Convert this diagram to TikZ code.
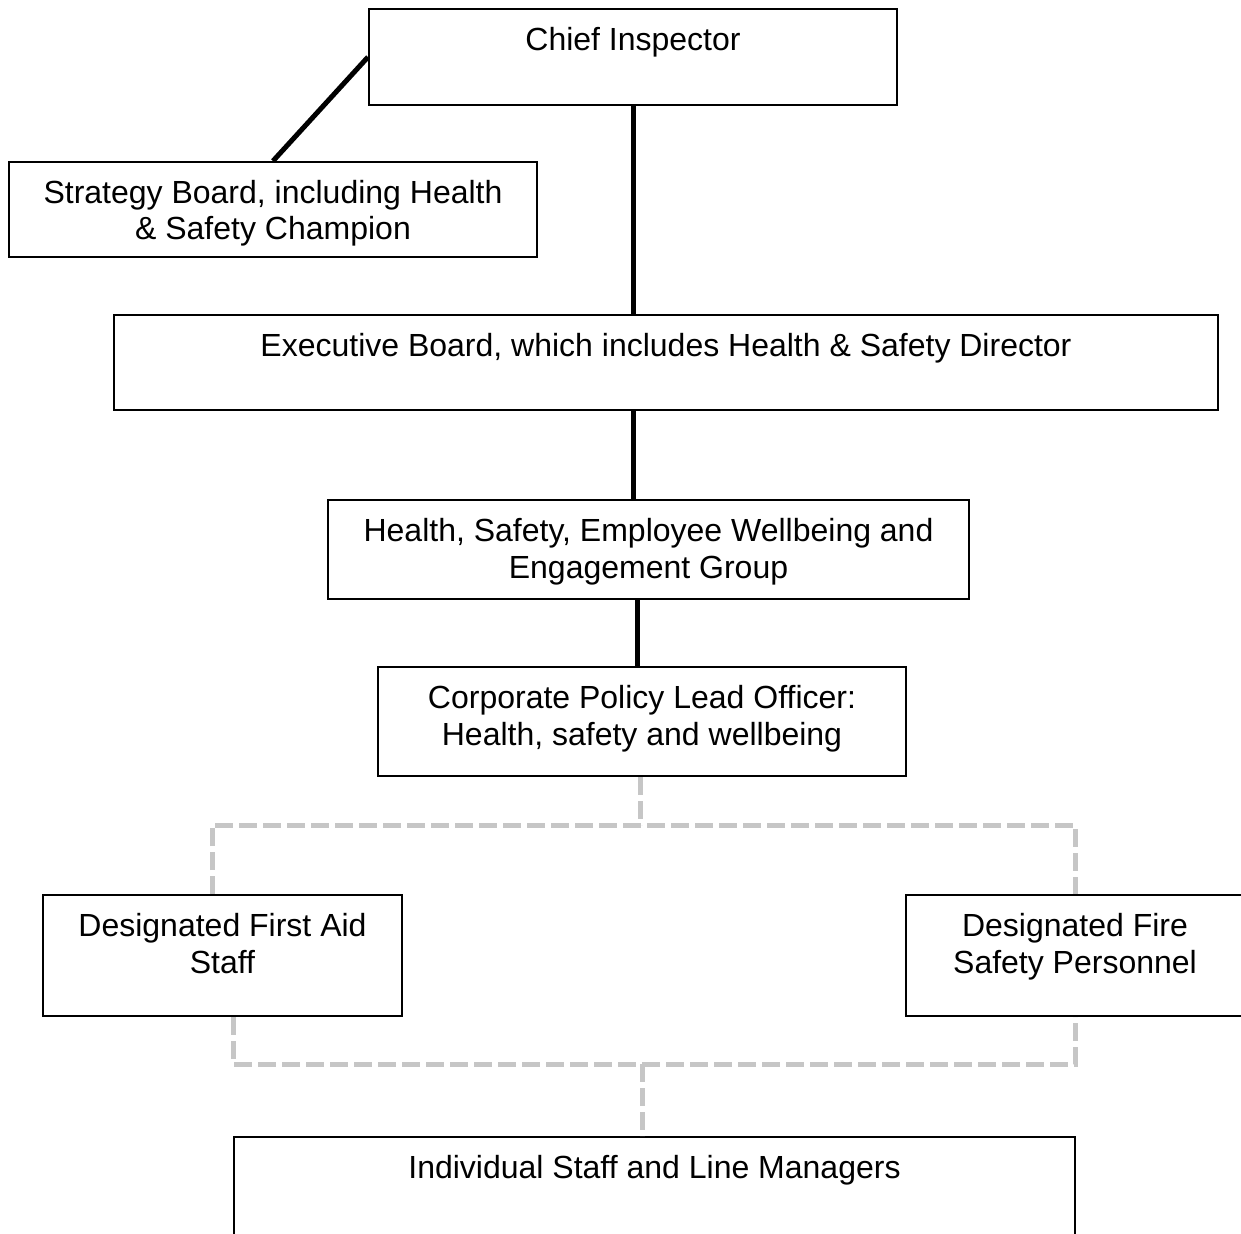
\documentclass[tikz,border=0pt]{standalone}
\usepackage{fontspec}
\setmainfont{Liberation Sans}
\usepackage{tikz}
\usetikzlibrary{calc}

\definecolor{dashgrey}{RGB}{198,198,198}
% text sits at the top of each box
\newcommand{\boxtext}[3]{\parbox[c][#2][t]{#1}{\centering\rule{0pt}{41.5pt}#3}}

\begin{document}
\begin{tikzpicture}[x=1pt,y=-1pt,line width=5pt,
                    font=\fontsize{32}{36.5}\selectfont,
                    dashlink/.style={draw=dashgrey,dash pattern=on 18pt off 6pt}]
  \tikzstyle{every node}=[draw,line width=2pt,inner sep=0pt]
  \useasboundingbox (0,0) rectangle (1241,1233);
  \clip (0,0) rectangle (1241,1233);

  \node (chief) at (633,57)      {\boxtext{528pt}{96pt}{Chief Inspector}};
  \node (strat) at (273,209.5)   {\boxtext{528pt}{95pt}{Strategy Board, including Health\\ \& Safety Champion}};
  \node (exec)  at (666,362.5)   {\boxtext{1104pt}{95pt}{Executive Board, which includes Health \& Safety Director}};
  \node (hsew)  at (648.5,549.5) {\boxtext{641pt}{99pt}{Health, Safety, Employee Wellbeing and\\ Engagement Group}};
  \node (corp)  at (642,721.5)   {\boxtext{528pt}{109pt}{Corporate Policy Lead Officer:\\ Health, safety and wellbeing}};
  \node (aid)   at (222.5,955.5) {\boxtext{359pt}{121pt}{Designated First Aid\\ Staff}}; % left
  \node (fire)  at (1075,955.5)  {\boxtext{338pt}{121pt}{Designated Fire\\ Safety Personnel}}; % right
  \node (indiv) at (654.5,1192)  {\boxtext{841pt}{110pt}{Individual Staff and Line Managers}};

  \path (strat.north) edge (chief.west)
        (chief.south) edge (chief.south |- exec.north)
        (exec.south -| chief.south) edge (hsew.north -| chief.south)
        ([xshift=-4.3pt]corp.north |- hsew.south) edge ([xshift=-4.3pt]corp.north);

  % dashed links
  \coordinate (split) at (640,825);
  \coordinate (merge) at (642,1064);
  \draw[dashlink] (corp.south -| split) -- (split);
  \draw[dashlink] ([xshift=-10.5pt]aid.north) |- (split) -| (fire.north);
  \draw[dashlink] (aid.south -| indiv.west) |- (merge) -| (fire.south);
  \draw[dashlink] (merge) -- (merge |- indiv.north);
\end{tikzpicture}
\end{document}
